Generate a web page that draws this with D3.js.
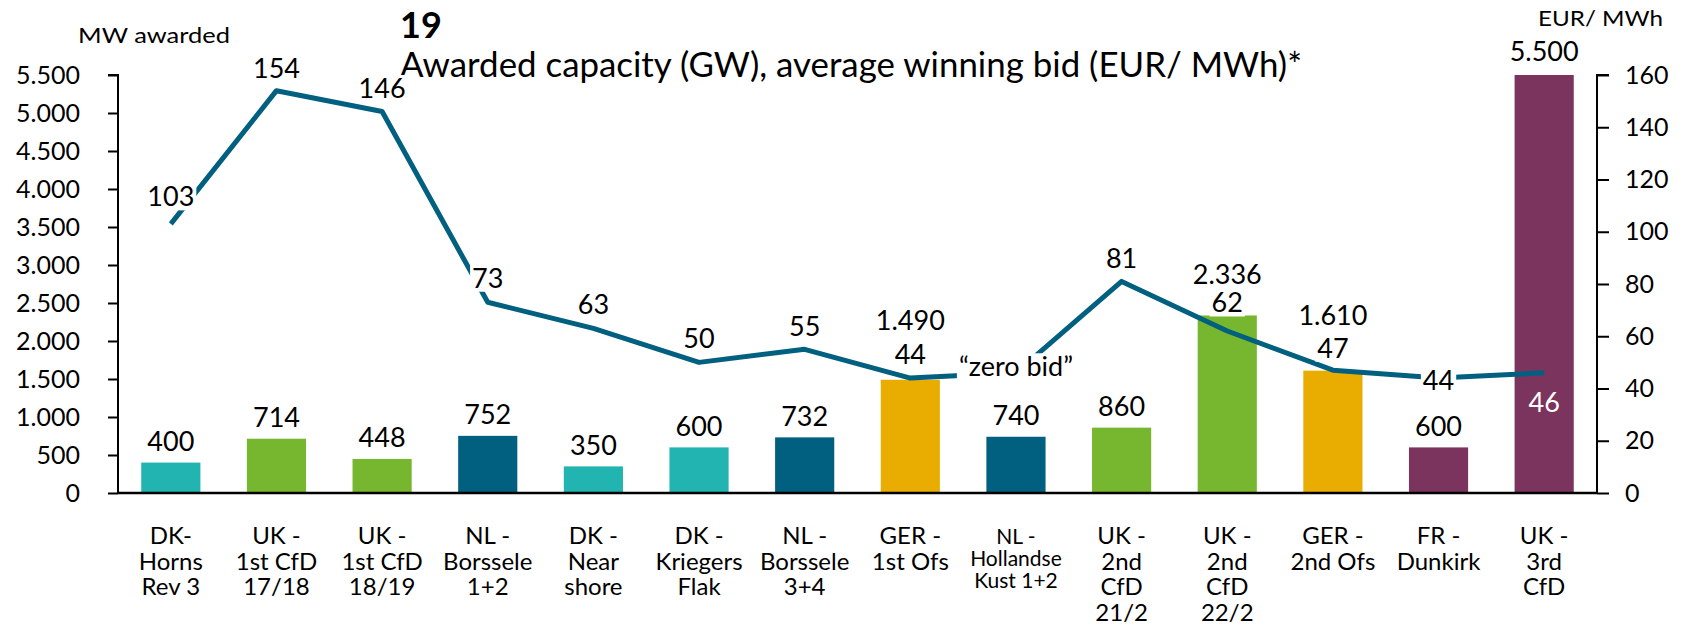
<!DOCTYPE html>
<html>
<head>
<meta charset="utf-8">
<script src="https://cdn.jsdelivr.net/npm/d3@7"></script>
<style>
  body { margin: 0; background: #fff; }
  text { font-family: Lato, "Noto Sans", sans-serif; fill: #000; }
</style>
</head>
<body>
<script>
// Data
const categories = [
  ['DK-', 'Horns', 'Rev 3'],
  ['UK -', '1st CfD', '17/18'],
  ['UK -', '1st CfD', '18/19'],
  ['NL -', 'Borssele', '1+2'],
  ['DK -', 'Near', 'shore'],
  ['DK -', 'Kriegers', 'Flak'],
  ['NL -', 'Borssele', '3+4'],
  ['GER -', '1st Ofs'],
  ['NL -', 'Hollandse', 'Kust 1+2'],
  ['UK -', '2nd', 'CfD', '21/2'],
  ['UK -', '2nd', 'CfD', '22/2'],
  ['GER -', '2nd Ofs'],
  ['FR -', 'Dunkirk'],
  ['UK -', '3rd', 'CfD']
];
const groups = ['DK', 'UK', 'UK', 'NL', 'DK', 'DK', 'NL', 'GER', 'NL', 'UK', 'UK', 'GER', 'FR', 'FR'];
const capacity = [400, 714, 448, 752, 350, 600, 732, 1490, 740, 860, 2336, 1610, 600, 5500];
const bids = [103, 154, 146, 73, 63, 50, 55, 44, 46, 81, 62, 47, 44, 46];
const bidLabels = ['103', '154', '146', '73', '63', '50', '55', '44', '\u201czero bid\u201d', '81', '62', '47', '44', '46'];
const leftTicks = d3.range(0, 5501, 500);
const rightTicks = d3.range(0, 161, 20);

// Layout
const width = 1693;
const height = 632;
const plotLeft = 118;
const plotRight = 1597;
const plotTop = 75;
const plotBottom = 493;

const colors = { DK: '#22b4b0', UK: '#76b72f', NL: '#01607f', GER: '#e8ad00', FR: '#7b345e' };
const lineColor = '#01607f';

// label nudges (px) relative to default placement
const bidLabelDy = [-27, -22, -23, -24, -24, -24, -23, -24, -6, -23, -28, -22, 2, 30];
const capLabelDy = [-21, -21, -21, -21, -21, -21, -21, -59, -21, -21, -41, -55, -21, -23];

const fmt = d3.formatLocale({ decimal: ',', thousands: '.', grouping: [3], currency: ['', ''] }).format(',');

const svg = d3.select('body')
  .append('svg')
  .attr('width', width)
  .attr('height', height);

const x = d3.scaleBand()
  .domain(d3.range(categories.length))
  .range([plotLeft, plotRight])
  .paddingInner(0.44)
  .paddingOuter(0.22);

const yL = d3.scaleLinear().domain([0, 5500]).range([plotBottom, plotTop]);
const yR = d3.scaleLinear().domain([0, 160]).range([plotBottom, plotTop]);

// Title
svg.append('text')
  .attr('x', 400).attr('y', 38)
  .style('font-size', '36px').style('font-weight', 'bold')
  .text('19');
svg.append('text')
  .attr('x', 400).attr('y', 77)
  .attr('textLength', 902)
  .attr('lengthAdjust', 'spacingAndGlyphs')
  .style('font-size', '34px')
  .text('Awarded capacity (GW), average winning bid (EUR/ MWh)*');

svg.append('text')
  .attr('x', 78).attr('y', 43)
  .attr('textLength', 152)
  .attr('lengthAdjust', 'spacingAndGlyphs')
  .style('font-size', '22px')
  .text('MW awarded');
svg.append('text')
  .attr('x', 1538).attr('y', 26)
  .attr('textLength', 125)
  .attr('lengthAdjust', 'spacingAndGlyphs')
  .style('font-size', '22px')
  .text('EUR/ MWh');

// Bars
svg.append('g')
  .selectAll('rect')
  .data(capacity)
  .enter()
  .append('rect')
  .attr('x', (d, i) => x(i))
  .attr('y', d => yL(d))
  .attr('width', x.bandwidth())
  .attr('height', d => plotBottom - yL(d))
  .style('fill', (d, i) => colors[groups[i]]);

// Axes
const axisL = d3.axisLeft(yL).tickValues(leftTicks).tickSize(10).tickPadding(28).tickFormat(fmt);
const gL = svg.append('g').attr('transform', `translate(${plotLeft},0)`).call(axisL);
gL.select('.domain').attr('d', `M-10,${plotTop}H0V${plotBottom}`).style('stroke', '#000').style('stroke-width', 2);

const axisR = d3.axisRight(yR).tickValues(rightTicks).tickSize(12).tickPadding(16);
const gR = svg.append('g').attr('transform', `translate(${plotRight},0)`).call(axisR);
gR.select('.domain').attr('d', `M12,${plotTop}H0V${plotBottom}`).style('stroke', '#000').style('stroke-width', 2);

[gL, gR].forEach(g => {
  g.selectAll('.tick line').style('stroke', '#000').style('stroke-width', 2);
  g.selectAll('.tick text').style('font-size', '25px').style('font-family', 'Lato, "Noto Sans", sans-serif');
});

svg.append('line')
  .attr('x1', plotLeft).attr('x2', plotRight)
  .attr('y1', plotBottom).attr('y2', plotBottom)
  .style('stroke', '#000').style('stroke-width', 2.5);

// Category labels
const cat = svg.append('g')
  .selectAll('text')
  .data(categories)
  .enter()
  .append('text')
  .attr('text-anchor', 'middle')
  .attr('x', (d, i) => x(i) + x.bandwidth() / 2)
  .attr('y', 544)
  .style('font-size', (d, i) => (i === 8 ? '21px' : '24px'));
cat.selectAll('tspan')
  .data((d, i) => d.map(t => ({ t, i })))
  .enter()
  .append('tspan')
  .attr('x', d => x(d.i) + x.bandwidth() / 2)
  .attr('dy', (d, j) => (j === 0 ? 0 : (d.i === 8 ? 22 : 25.5)))
  .text(d => d.t);

// Capacity labels
svg.append('g')
  .selectAll('text')
  .data(capacity)
  .enter()
  .append('text')
  .attr('text-anchor', 'middle')
  .attr('x', (d, i) => x(i) + x.bandwidth() / 2)
  .attr('y', (d, i) => yL(d) + capLabelDy[i])
  .attr('dy', '0.35em')
  .style('font-size', '27px')
  .text(d => fmt(d));

// Bid line
const line = d3.line()
  .x((d, i) => x(i) + x.bandwidth() / 2)
  .y(d => yR(d));

svg.append('path')
  .datum(bids)
  .attr('d', line)
  .style('fill', 'none')
  .style('stroke', lineColor)
  .style('stroke-width', 5)
  .style('stroke-linejoin', 'round');

// Bid labels with white boxes
const bidG = svg.append('g');
bids.forEach((d, i) => {
  const g = bidG.append('g');
  const isInside = i === bids.length - 1;
  const t = g.append('text')
    .attr('text-anchor', 'middle')
    .attr('x', x(i) + x.bandwidth() / 2)
    .attr('y', yR(d) + bidLabelDy[i])
    .attr('dy', '0.35em')
    .style('font-size', '27px')
    .style('fill', isInside ? '#fff' : '#000')
    .text(bidLabels[i]);
  if (!isInside) {
    const b = t.node().getBBox();
    g.insert('rect', 'text')
      .attr('x', b.x - 2).attr('y', b.y + 4)
      .attr('width', b.width + 4).attr('height', b.height - 6)
      .style('fill', '#fff');
  }
});
</script>
</body>
</html>
